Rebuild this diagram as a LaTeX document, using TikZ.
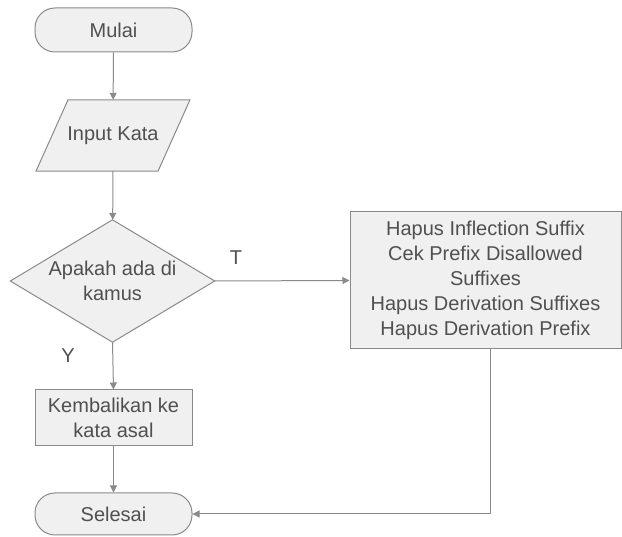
\documentclass[tikz,border=0pt]{standalone}
\usepackage{fontspec}
\setmainfont{Liberation Sans}
\usetikzlibrary{arrows.meta}
\definecolor{lineg}{HTML}{8A8A8A}
\definecolor{textg}{HTML}{505050}
\definecolor{fillg}{HTML}{F0F0F0}
\begin{document}
\begin{tikzpicture}[x=1pt,y=-1pt,
  every node/.style={font=\fontsize{20}{25}\selectfont, text=textg, align=center, inner sep=0pt},
  shapeline/.style={draw=lineg, line width=1pt, fill=fillg},
  term/.style={shapeline, rectangle, rounded corners=20pt, minimum width=157pt},
  procbox/.style={shapeline, rectangle},
  flow/.style={draw=lineg, line width=1pt, -{Triangle[length=7pt,width=7pt]}},
  lbl/.style={font=\fontsize{20}{25}\selectfont, text=textg}
]
\useasboundingbox (0,0) rectangle (622,537);

\node[term, minimum height=44pt] (start) at (113.5,30) {Mulai};

\node[minimum width=154pt, minimum height=71pt] (inp) at (113,135.5) {};
\path[shapeline] ([xshift=-45pt]inp.north) -- ([xshift=77pt]inp.north)
  -- ([xshift=45pt]inp.south) -- ([xshift=-77pt]inp.south) -- cycle;
\node at (inp.center) {Input Kata};

\node[minimum width=204pt, minimum height=122pt] (dec) at (112.5,281) {};
\path[shapeline] (dec.north) -- (dec.east) -- (dec.south) -- (dec.west) -- cycle;
\node at (dec.center) {Apakah ada di\\kamus};

\node[procbox, minimum width=271pt, minimum height=137pt] (proc) at (485.5,280.5)
  {Hapus Inflection Suffix\\Cek Prefix Disallowed\\Suffixes\\Hapus Derivation Suffixes\\Hapus Derivation Prefix};

\node[procbox, minimum width=157pt, minimum height=56pt] (back) at (113.5,418)
  {Kembalikan ke\\kata asal};

\node[term, minimum height=42pt] (end) at (113.5,514) {Selesai};

\node[lbl] (tl) at (236,258) {T};
\node[lbl] (yl) at (68,356) {Y};

\draw[flow] (start) -- (inp);
\draw[flow] (inp) -- (dec);
\draw[flow] (dec.east) -- (proc.west);
\draw[flow] (dec.south) -- (back.north);
\draw[flow] (back) -- (end);
\draw[flow] ([xshift=4.5pt]proc.south) |- (end.east);
\end{tikzpicture}
\end{document}
